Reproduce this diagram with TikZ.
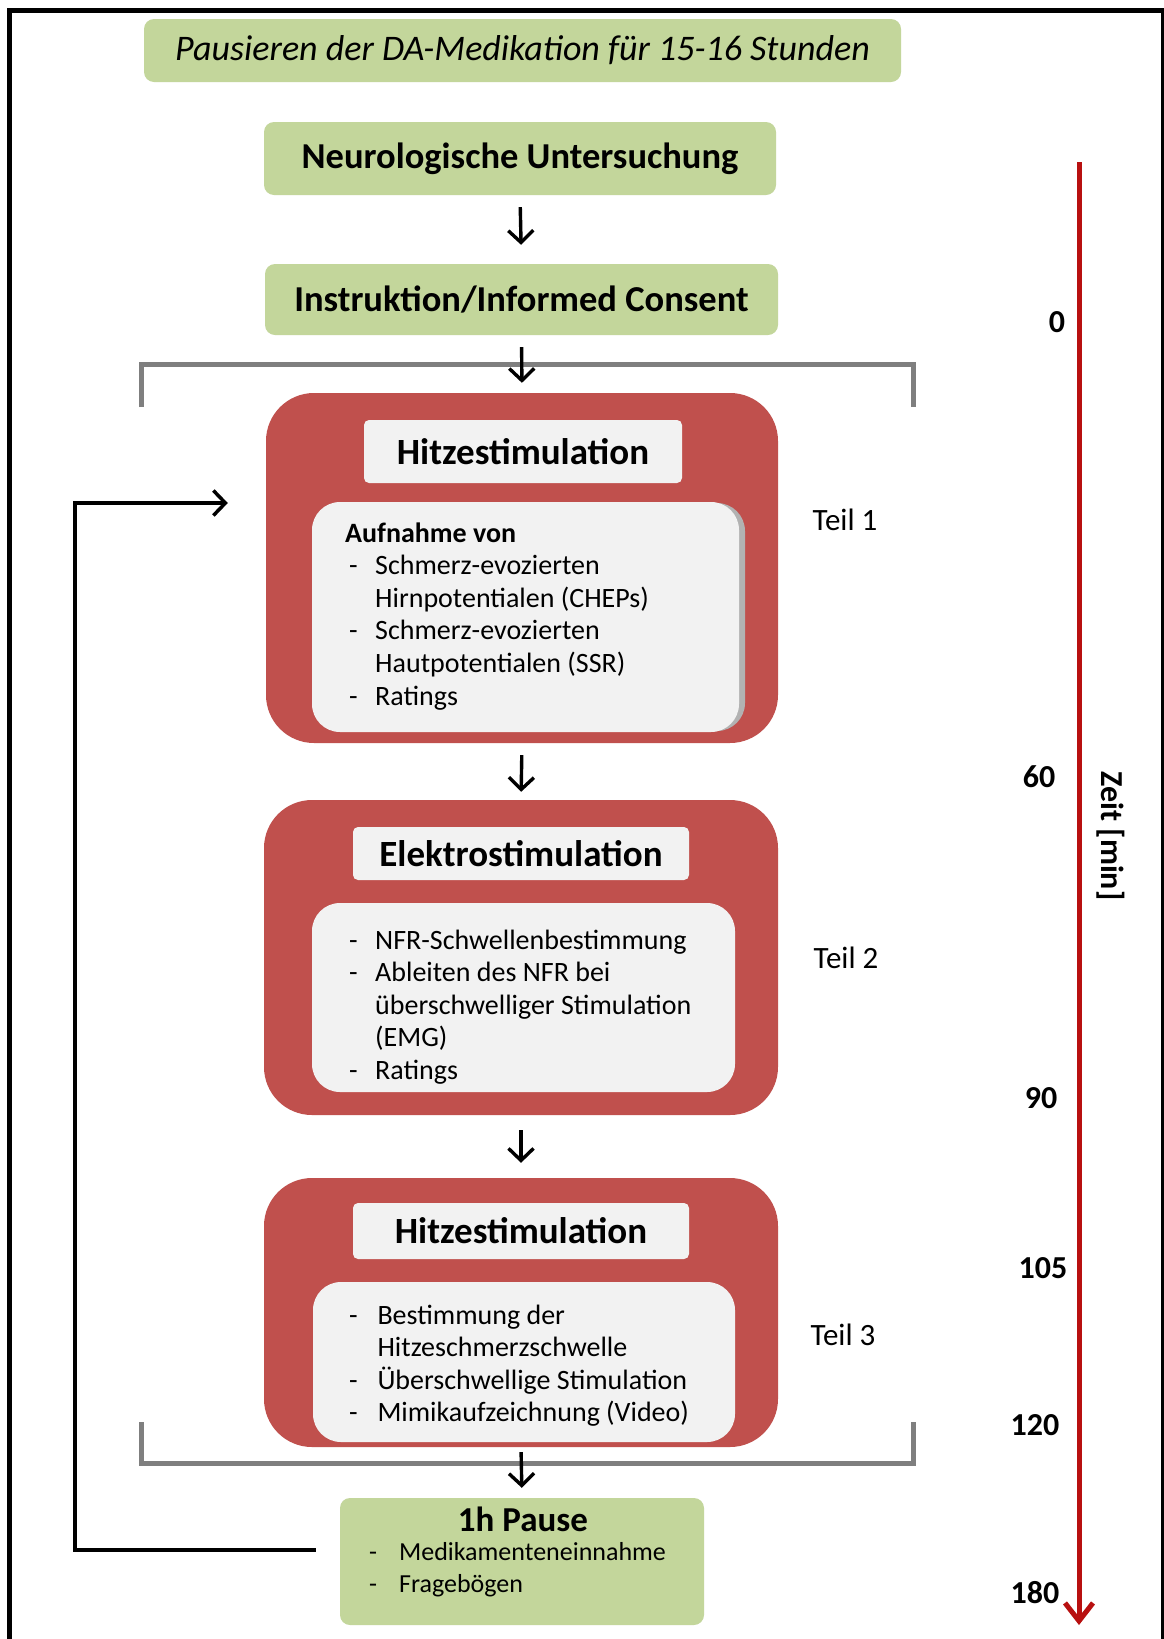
\documentclass[tikz,border=0pt]{standalone}
\usepackage{fontspec}
\setmainfont{Carlito}
\usetikzlibrary{arrows.meta,calc}

\definecolor{olive}{HTML}{C3D69B}
\definecolor{brick}{HTML}{C0504D}
\definecolor{panel}{HTML}{F2F2F2}
\definecolor{bracketgray}{HTML}{7F7F7F}
\definecolor{timered}{HTML}{B81010}

% bullet and continuation indents for the list lines
\newcommand{\lbul}[1][30pt]{\makebox[#1][l]{\hspace{4pt}-}}
\newcommand{\lcont}[1][30pt]{\hspace{#1}}

\begin{document}
\begin{tikzpicture}[x=1pt,y=-1pt,
  greenbox/.style={fill=olive, rounded corners=10pt, inner sep=0pt},
  redbox/.style={fill=brick, rounded corners=48pt, inner sep=0pt},
  headbox/.style={fill=panel, rounded corners=5pt, inner sep=0pt,
    font=\fontsize{37}{42}\selectfont\bfseries},
  contentbox/.style={fill=panel, rounded corners=28pt, inner sep=0pt},
  listtext/.style={inner sep=0pt, anchor=base west,
    font=\fontsize{28}{32.6}\selectfont},
  teil/.style={font=\fontsize{31}{34}\selectfont},
  tick/.style={font=\fontsize{32}{36}\selectfont\bfseries},
  flow/.style={draw=black, line width=3.4pt,
    -{Straight Barb[length=12pt,width=25pt]}},
  bracket/.style={draw=bracketgray, line width=5pt},
]
\useasboundingbox (0,0) rectangle (1164,1639);
\fill[white] (0,0) rectangle (1164,1639);
\draw[line width=5pt] (9,1660) -- (9,10) -- (1163,10) -- (1163,1660);

% preparation steps
\node[greenbox, minimum width=757pt, minimum height=63pt,
  font=\fontsize{36}{40}\selectfont\itshape] (pause0) at (522.5,50.5)
  {Pausieren der DA-Medikation für 15-16 Stunden};
\node[greenbox, minimum width=512pt, minimum height=73pt,
  font=\fontsize{36.5}{42}\selectfont\bfseries] (neuro) at (520,158.5)
  {Neurologische Untersuchung};
\node[greenbox, minimum width=513pt, minimum height=71pt,
  font=\fontsize{36.5}{42}\selectfont\bfseries] (instr) at (521.5,299.5)
  {Instruktion/Informed Consent};

% brackets around the three parts
\draw[bracket] (141,407) -- (141,364) -- (913,364) -- (913,407);
\draw[bracket] (141,1422) -- (141,1463) -- (913,1463) -- (913,1422);

% Teil 1
\node[redbox, minimum width=512pt, minimum height=350pt] (red1) at (522,568) {};
\node[headbox, minimum width=318pt, minimum height=63pt] (head1) at (523,451.5) {Hitzestimulation};
\fill[gray!60, rounded corners=28pt] (318,503) rectangle (745,731);
\node[contentbox, minimum width=427pt, minimum height=230pt] (cont1) at (525.5,617) {};
\node[listtext] (list1) at (345,542) {\begin{tabular}[t]{@{}l@{}}
  \textbf{Aufnahme von}\\
  \lbul Schmerz-evozierten\\
  \lcont Hirnpotentialen (CHEPs)\\
  \lbul Schmerz-evozierten\\
  \lcont Hautpotentialen (SSR)\\
  \lbul Ratings
\end{tabular}};
\node[teil] (teil1) at (845,520) {Teil 1};

% Teil 2
\node[redbox, minimum width=514pt, minimum height=315pt] (red2) at (521,957.5) {};
\node[headbox, minimum width=336pt, minimum height=53pt] (head2) at (521,853.5) {Elektrostimulation};
\node[contentbox, minimum width=423pt, minimum height=189pt] (cont2) at (523.5,997.5) {};
\node[listtext] (list2) at (345,949) {\begin{tabular}[t]{@{}l@{}}
  \lbul NFR-Schwellenbestimmung\\
  \lbul Ableiten des NFR bei\\
  \lcont überschwelliger Stimulation\\
  \lcont (EMG)\\
  \lbul Ratings
\end{tabular}};
\node[teil] (teil2) at (846,958) {Teil 2};

% Teil 3
\node[redbox, minimum width=514pt, minimum height=269pt] (red3) at (521,1312.5) {};
\node[headbox, minimum width=336pt, minimum height=56pt] (head3) at (521,1231) {Hitzestimulation};
\node[contentbox, minimum width=422pt, minimum height=160pt] (cont3) at (524,1362) {};
\node[listtext] (list3) at (345,1324) {\begin{tabular}[t]{@{}l@{}}
  \lbul[26pt] Bestimmung der\\
  \lcont[26pt] Hitzeschmerzschwelle\\
  \lbul[26pt] Überschwellige Stimulation\\
  \lbul[26pt] Mimikaufzeichnung (Video)
\end{tabular}};
\node[teil] (teil3) at (843,1335) {Teil 3};

% break after the session
\node[greenbox, minimum width=364pt, minimum height=127pt] (pausebox) at (522,1561.5) {};
\node[font=\fontsize{35}{40}\selectfont\bfseries] (pausetitle) at (523,1519) {1h Pause};
\node[listtext, font=\fontsize{26}{32}\selectfont] (list4) at (365,1560) {\begin{tabular}[t]{@{}l@{}}
  \lbul[28pt] Medikamenteneinnahme\\
  \lbul[28pt] Fragebögen
\end{tabular}};

% flow arrows
\draw[flow, shorten <=12pt, shorten >=19pt] (neuro.south) -- (instr.north);
\draw[flow, shorten <=12pt, shorten >=10pt] (instr.south) -- (red1.north);
\draw[flow, shorten <=12pt, shorten >=8pt] (red1.south) -- (red2.north);
\draw[flow, shorten <=15pt, shorten >=15pt] (red2.south) -- (red3.north);
\draw[flow, shorten <=5pt, shorten >=10pt] (red3.south) -- (pausebox.north);

% loop back to the next heat stimulation
\coordinate (fbstart) at ($(pausebox.west)+(-24,-11.5)$);
\coordinate (fbcorner) at (75,1550);
\coordinate (fbend) at ($(red1.west)+(-38,-65)$);
\draw[flow, line width=3.5pt] (fbstart) -- (fbcorner) |- (fbend);

% time axis
\coordinate (ttop) at (1079,162);
\coordinate (tbot) at (1079,1625);
\draw[draw=timered, line width=5pt, -{Straight Barb[length=18pt,width=28pt]}] (ttop) -- (tbot);
\node[tick] (t0) at (1057,322) {0};
\node[tick] (t60) at (1039,777) {60};
\node[tick] (t90) at (1041,1098) {90};
\node[tick] (t105) at (1043,1268) {105};
\node[tick] (t120) at (1035,1425) {120};
\node[tick] (t180) at (1035,1593) {180};
\node[tick, rotate=-90] (zeit) at (1111,836) {Zeit [min]};
\end{tikzpicture}
\end{document}
